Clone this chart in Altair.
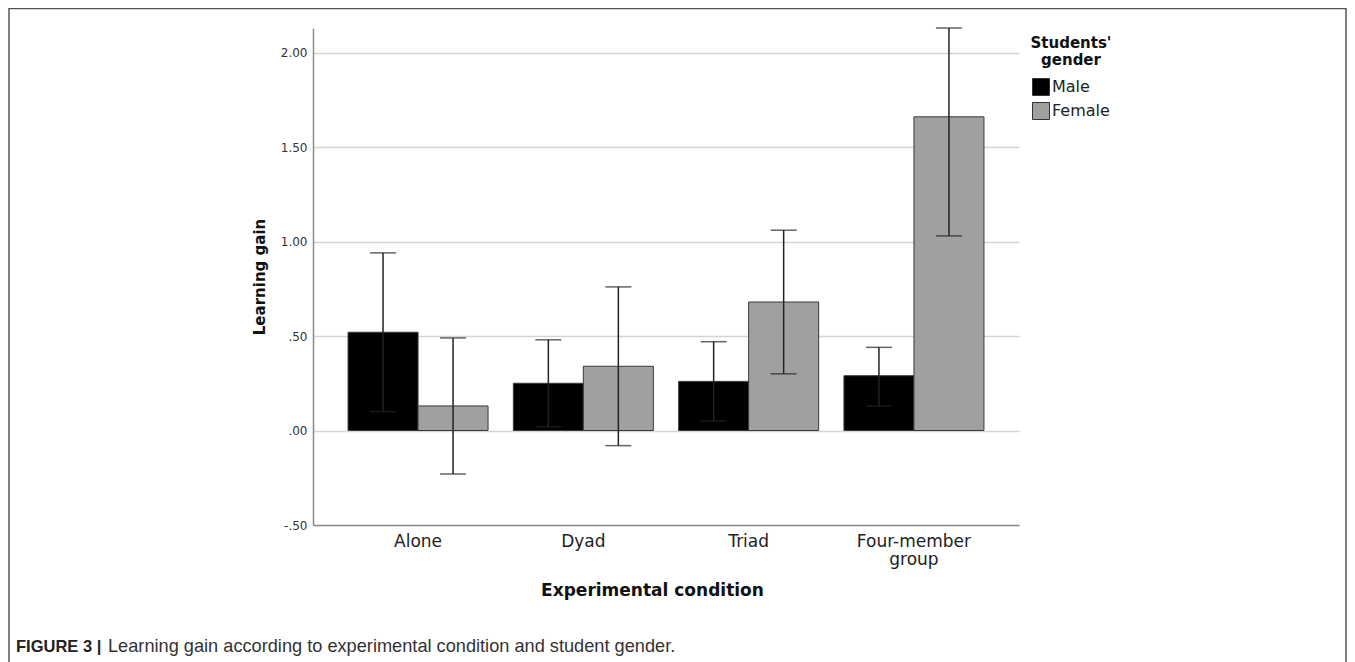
import altair as alt
import pandas as pd

conditions = ["Alone", "Dyad", "Triad", "Four-member group"]
genders = ["Male", "Female"]
male_mean = [0.52, 0.25, 0.26, 0.29]
female_mean = [0.13, 0.34, 0.68, 1.66]
male_upper = [0.94, 0.48, 0.47, 0.44]
male_lower = [0.10, 0.02, 0.05, 0.13]
female_upper = [0.49, 0.76, 1.06, 2.13]
female_lower = [-0.23, -0.08, 0.30, 1.03]
y_ticks = [-0.5, 0.0, 0.5, 1.0, 1.5, 2.0]

rows = []
for i, c in enumerate(conditions):
    rows.append({"condition": c, "gender": "Male", "mean": male_mean[i],
                 "lower": male_lower[i], "upper": male_upper[i]})
    rows.append({"condition": c, "gender": "Female", "mean": female_mean[i],
                 "lower": female_lower[i], "upper": female_upper[i]})
df = pd.DataFrame(rows)

FONT = "DejaVu Sans"

x_enc = alt.X(
    "condition:N", sort=conditions,
    scale=alt.Scale(paddingInner=0.153, paddingOuter=0.212),
    axis=alt.Axis(
        title="Experimental condition", labelAngle=0, ticks=False, grid=False,
        domainColor="#8a8a8a", domainWidth=1.5,
        labelFont=FONT, labelFontSize=17, labelColor="#222",
        labelPadding=8, labelLineHeight=18,
        labelExpr="datum.value == 'Four-member group' ? ['Four-member', 'group'] : datum.label",
        titleFont=FONT, titleFontSize=17, titleFontWeight="bold", titleColor="#111",
        titlePadding=15, titleX=339,
    ),
)
xoff = alt.XOffset("gender:N", sort=genders)

y_scale = alt.Scale(domain=[-0.5, 2.13], nice=False, zero=False)

bars = alt.Chart(df).mark_bar(stroke="#3a3a3a", strokeWidth=1).encode(
    x=x_enc,
    xOffset=xoff,
    y=alt.Y(
        "mean:Q", scale=y_scale,
        axis=alt.Axis(
            title="Learning gain", values=y_ticks, ticks=False,
            grid=True, gridColor="#d4d4d4", gridWidth=1.5,
            domainColor="#8a8a8a", domainWidth=1.5,
            labelExpr="replace(replace(format(datum.value, '.2f'), '0.', '.'), '\u2212', '-')",
            labelFont=FONT, labelFontSize=12, labelColor="#333", labelPadding=6,
            titleFont=FONT, titleFontSize=15, titleFontWeight="bold", titleColor="#111",
            titlePadding=13,
        ),
    ),
    y2=alt.datum(0),
    color=alt.Color(
        "gender:N", sort=genders,
        scale=alt.Scale(domain=genders, range=["#000000", "#a0a0a0"]),
        legend=alt.Legend(
            title=["Students'", "gender"], orient="none", legendX=718, legendY=8,
            titleFont=FONT, titleFontSize=15, titleFontWeight="bold", titleColor="#111",
            titleAnchor="middle", titleAlign="center", titleLineHeight=17, titlePadding=10,
            labelFont=FONT, labelFontSize=16, labelColor="#222", labelOffset=2,
            symbolType="square", symbolSize=289, symbolStrokeColor="#333",
            symbolStrokeWidth=1, symbolOpacity=1, rowPadding=2,
        ),
    ),
)

err = alt.Chart(df).mark_rule(color="#222", strokeWidth=1.5).encode(
    x=alt.X("condition:N", sort=conditions),
    xOffset=xoff,
    y=alt.Y("lower:Q", scale=y_scale),
    y2="upper:Q",
)

caps = alt.Chart(df).transform_fold(["lower", "upper"], as_=["bound", "val"]).mark_tick(
    color="#222", thickness=1.5, size=26, orient="horizontal"
).encode(
    x=alt.X("condition:N", sort=conditions),
    xOffset=xoff,
    y=alt.Y("val:Q", scale=y_scale),
)

deco = pd.DataFrame({"k": [0]})
frame = alt.Chart(deco).mark_rect(fill=None, stroke="#555", strokeWidth=1.5).encode(
    x=alt.value(-304), x2=alt.value(1033), y=alt.value(-19.5), y2=alt.value(700)
)
cap_bold = alt.Chart(deco).mark_text(
    text="FIGURE 3 |", font="Liberation Sans", fontSize=16.5, fontWeight="bold",
    align="left", baseline="middle", color="#222"
).encode(x=alt.value(-297), y=alt.value(619))
cap_rest = alt.Chart(deco).mark_text(
    text="Learning gain according to experimental condition and student gender.",
    font="Liberation Sans", fontSize=18.2, align="left", baseline="middle", color="#333"
).encode(x=alt.value(-205), y=alt.value(619))

chart = alt.layer(bars, err, caps, frame, cap_bold, cap_rest).properties(
    width=706, height=497,
    autosize=alt.AutoSizeParams(type="none"),
    padding={"left": 305, "top": 20, "right": 328, "bottom": 137},
).configure_view(stroke=None)

chart.save("out.html", embed_options={"renderer": "svg", "actions": False})
